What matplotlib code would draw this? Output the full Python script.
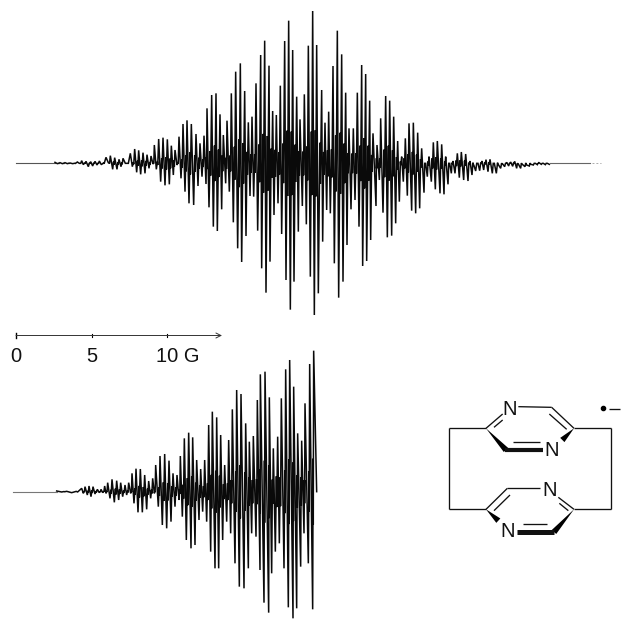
import numpy as np
import matplotlib
matplotlib.use("Agg")
import matplotlib.pyplot as plt
from matplotlib.patches import Polygon

plt.rcParams['font.family'] = ['Liberation Sans', 'DejaVu Sans']

# --- Upper spectrum: (position of maximum, level of maximum, position of minimum, level of minimum)
# on a 3x pixel grid
upper_pos_max = [165,180,195,210,232,245,258,272,285,298,318,331,344,357,369,391,404,416,429,441,453,463,476,489,502,514,525,537,549,561,574,588,600,612,621,635,648,660,670,681,694,707,721,734,745,756,768,782,794,807,818,829,841,854,866,878,890,900,913,925,938,950,965,975,986,999,1012,1025,1037,1047,1060,1072,1085,1097,1109,1119,1131,1142,1157,1169,1181,1193,1205,1216,1227,1240,1253,1265,1277,1287,1300,1312,1325,1337,1349,1359,1372,1384,1397,1410,1422,1434,1446,1458,1470,1483,1497,1508,1520,1532,1544,1555,1567,1580,1593,1606,1617,1630,1642]
upper_lvl_max = [487,488,488,489,486,482,484,485,484,483,472,467,473,478,475,460,447,451,458,464,468,435,417,413,418,437,450,410,372,361,372,402,430,407,325,285,280,343,405,362,280,215,190,273,367,350,250,165,122,197,333,345,257,123,62,150,290,358,283,137,33,135,270,368,335,198,92,163,278,385,385,278,195,222,302,400,435,355,288,302,350,423,470,415,370,368,398,445,490,470,427,423,433,470,490,483,460,456,462,483,497,490,483,479,478,490,497,492,487,486,484,492,493,495,493,490,488,490,490]
upper_pos_min = [172,187,202,218,238,250,265,278,291,304,325,338,351,363,376,397,410,422,435,447,459,469,482,495,508,520,531,543,555,567,581,594,606,618,627,640,652,665,677,688,700,713,725,738,750,761,773,785,798,810,822,834,845,858,871,882,895,907,919,931,943,955,968,980,991,1003,1016,1029,1041,1053,1065,1077,1088,1100,1112,1128,1138,1149,1162,1175,1187,1198,1210,1222,1235,1247,1259,1272,1282,1294,1306,1320,1332,1344,1354,1365,1378,1391,1404,1416,1427,1439,1451,1464,1477,1489,1502,1514,1526,1538,1550,1562,1575,1588,1600,1612,1624,1636,1648]
upper_lvl_min = [491,491,491,491,490,494,500,498,495,494,488,508,508,500,490,500,517,523,520,505,492,508,545,556,553,525,495,535,575,610,615,558,530,552,622,680,693,628,550,575,667,745,786,708,588,590,692,805,878,785,645,610,702,840,929,845,695,618,673,830,945,880,725,630,640,790,893,845,735,628,600,680,798,783,720,618,540,638,712,707,670,605,545,587,632,640,625,578,530,545,568,580,583,553,520,520,533,540,543,525,513,512,510,515,520,520,505,500,498,499,505,505,500,498,495,494,493,494,493]

# --- Lower spectrum, same grid (image row = 320 + y/3)
lower_pos_max = [170,200,245,255,267,279,292,303,314,323,336,350,362,375,386,396,408,421,434,446,458,467,480,494,507,519,531,541,553,566,578,590,602,614,626,637,650,662,674,686,697,710,723,737,748,760,772,781,795,808,820,833,844,857,869,881,893,905,915,929,941]
lower_lvl_max = [513,514,505,500,498,500,508,508,498,488,478,482,488,495,488,460,446,447,465,483,475,435,408,402,422,460,465,408,355,338,352,420,447,420,315,275,292,345,435,360,268,210,222,310,365,348,240,163,155,232,385,350,235,148,120,200,340,362,250,132,92]
lower_pos_min = [185,215,250,262,273,285,298,308,318,330,343,356,368,380,392,402,414,427,440,452,463,475,487,500,513,525,537,547,559,573,585,597,608,620,632,645,656,668,680,692,705,718,732,745,755,768,780,792,806,815,826,838,852,865,879,890,902,912,925,938,950]
lower_lvl_min = [516,518,520,525,530,522,518,518,520,535,547,540,530,525,520,550,577,577,568,535,520,560,615,625,605,560,540,590,660,685,675,600,575,605,695,745,745,660,605,640,730,800,805,745,640,650,750,848,878,760,695,670,745,862,895,865,740,640,730,868,515]

UPPER_BASE = 490
LOWER_BASE = 515
LOWER_TOP = 320

# --- Scale bar
scale_ticks = [0, 5, 10]
scale_labels = ['0', '5', '10 G']
G_ORIGIN = 16.0
PX_PER_G = 15.1

fig = plt.figure(figsize=(6.21, 6.19), dpi=100)
ax = fig.add_axes([0, 0, 1, 1])
ax.set_xlim(0, 621)
ax.set_ylim(619, 0)
ax.axis('off')


def trace(pmax, lmax, pmin, lmin, base):
    xs, ys = [], []
    for i in range(len(pmax)):
        if i:
            gap = pmax[i] - pmin[i - 1]
            amp = min(abs(lmin[i - 1] - base), abs(lmax[i] - base))
            s = 0.28 * amp
            xs += [pmin[i - 1] + 0.45 * gap, pmin[i - 1] + 0.6 * gap]
            ys += [base - s, base + s]
        xs += [pmax[i], pmin[i]]
        ys += [lmax[i], lmin[i]]
    return np.array(xs, float) / 3, np.array(ys, float) / 3


x, y = trace(upper_pos_max, upper_lvl_max, upper_pos_min, upper_lvl_min, UPPER_BASE)
ax.plot([16, 55], [UPPER_BASE / 3] * 2, color='#555555', lw=0.8)
ax.plot(x, y, color='#0a0a0a', lw=1.1, solid_joinstyle='miter')
ax.plot([550, 590], [UPPER_BASE / 3] * 2, color='#666666', lw=0.8)
ax.plot([592, 601], [UPPER_BASE / 3] * 2, color='#aaaaaa', lw=0.7, ls=(0, (2, 2)))

x, y = trace(lower_pos_max, lower_lvl_max, lower_pos_min, lower_lvl_min, LOWER_BASE)
ax.plot([13, 57], [LOWER_BASE / 3 + LOWER_TOP] * 2, color='#777777', lw=0.8)
ax.plot(x, y + LOWER_TOP, color='#0a0a0a', lw=1.1, solid_joinstyle='miter')

# scale bar
bar_y = 335.5
ax.annotate('', xy=(222, bar_y), xytext=(G_ORIGIN, bar_y),
            arrowprops=dict(arrowstyle='->', lw=0.7, color='#333333', mutation_scale=9, shrinkA=0, shrinkB=0))
for g, label in zip(scale_ticks, scale_labels):
    gx = G_ORIGIN + g * PX_PER_G
    ax.plot([gx, gx], [bar_y - (2.5 if g == 0 else 1.5), bar_y + (2.5 if g == 0 else 1.5)], color='k', lw=1.0 if g == 0 else 0.8)
    ax.text(gx + (11 if g == 10 else 0), 356, label, fontsize=14.5, ha='center', va='center', color='#111111')

# molecule structure (zoomed image coordinates)
def M(px, py):
    return 430 + px / 3, 390 + py / 3

def line(p, q, lw=0.95):
    a, b = M(*p), M(*q)
    ax.plot([a[0], b[0]], [a[1], b[1]], color='#111111', lw=lw, solid_capstyle='butt')

def wedge(p, q, w=18):
    a = np.array(M(*p)); b = np.array(M(*q))
    d = b - a; n = np.array([-d[1], d[0]]) / np.hypot(*d) * w / 3 / 2
    ax.add_patch(Polygon([a, b + n, b - n], closed=True, color='black', lw=0))

for seg in [((168,115),(58,115)), ((58,115),(58,358)), ((58,358),(168,358)),
            ((432,115),(542,115)), ((542,115),(542,358)), ((542,358),(432,358)),
            ((168,115),(218,72)), ((192,112),(218,90)), ((265,50),(365,52)),
            ((365,52),(432,115)), ((358,72),(410,118)), ((248,155),(330,155)),
            ((168,358),(232,295)), ((192,362),(240,315)), ((232,295),(330,295)),
            ((385,322),(432,358)), ((388,340),(415,362)), ((278,403),(350,403)),
            ((538,58),(570,58))]:
    line(*seg)
wedge((432,115),(397,150)); wedge((168,115),(228,180))
wedge((168,358),(205,392)); wedge((432,358),(372,426))
line((225,180),(340,180), lw=3.0); line((262,425),(372,425), lw=3.6)
ax.plot(*M(520,55), 'o', color='k', ms=3.0)
for (px, py) in [(238,58),(365,180),(358,300),(232,425)]:
    X, Y = M(px, py)
    ax.text(X, Y, 'N', fontsize=14.5, ha='center', va='center', color='#111111')

fig.savefig('out.png', dpi=100)
